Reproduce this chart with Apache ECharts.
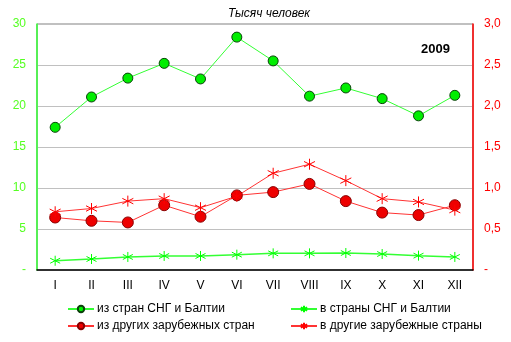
<!DOCTYPE html>
<html><head><meta charset="utf-8">
<script src="https://cdn.jsdelivr.net/npm/echarts@6/dist/echarts.min.js"></script>
<style>html,body{margin:0;padding:0;background:#fff}#c{width:511px;height:342px}</style>
</head><body><div id="c"></div>
<script>
const months = ['I','II','III','IV','V','VI','VII','VIII','IX','X','XI','XII'];
const fromCIS = [17.4,21.1,23.4,25.2,23.3,28.4,25.5,21.2,22.2,20.9,18.8,21.3];
const toCIS = [1.13,1.34,1.59,1.71,1.71,1.87,2.03,2.03,2.07,1.95,1.75,1.59];
const fromOther = [0.64,0.60,0.58,0.79,0.65,0.91,0.95,1.05,0.84,0.70,0.67,0.79];
const toOther = [0.71,0.75,0.84,0.87,0.76,0.90,1.18,1.29,1.09,0.87,0.83,0.73];
const names = ['из стран СНГ и Балтии','в страны СНГ и Балтии','из других зарубежных стран','в другие зарубежные страны'];
const FONT = 'Liberation Sans, Arial, sans-serif';
const star = 'path://M5,0 L5,10 M0.7,2.5 L9.3,7.5 M9.3,2.5 L0.7,7.5';
const chart = echarts.init(document.getElementById('c'));
const legendPos = [[62,298],[285,298],[62,315],[285,315]];
chart.setOption({
  animation:false,
  textStyle:{fontFamily:FONT},
  title:[
    {text:'Тысяч человек',left:228,top:8,padding:0,textStyle:{fontSize:12,fontStyle:'italic',fontWeight:'normal',color:'#000',fontFamily:FONT}},
    {text:'2009',left:421,top:43,padding:0,textStyle:{fontSize:13,fontWeight:'bold',color:'#000',fontFamily:FONT}}
  ],
  legend: names.map((n,i)=>({data:[n],left:legendPos[i][0],top:legendPos[i][1],itemWidth:26,itemHeight:8,itemGap:4,
    textStyle:{fontSize:12,color:'#000',fontFamily:FONT,padding:[0,0,0,-2]}})),
  grid:{left:37,right:38,top:24,bottom:72,show:true,borderColor:'#808080',borderWidth:1},
  xAxis:{type:'category',data:months,boundaryGap:true,
    axisLine:{lineStyle:{color:'#000',width:1.5}},axisTick:{show:false},
    axisLabel:{color:'#000',fontSize:12,margin:10,fontFamily:FONT}},
  yAxis:[
    {type:'value',min:0,max:30,interval:5,position:'left',
      axisLine:{show:true,lineStyle:{color:'#33ff33',width:1.5}},axisTick:{show:false},
      splitLine:{lineStyle:{color:'#c0c0c0'}},
      axisLabel:{color:'#55ff22',fontSize:12,margin:11,fontFamily:FONT,formatter:v=>v===0?'-':String(v)}},
    {type:'value',min:0,max:3,interval:0.5,position:'right',
      axisLine:{show:true,lineStyle:{color:'#ff0000',width:1.5}},axisTick:{show:false},
      splitLine:{show:false},
      axisLabel:{color:'#ff0000',fontSize:12,margin:11,fontFamily:FONT,formatter:v=>v===0?'-':v.toFixed(1).replace('.',',')}}
  ],
  series:[
    {name:names[0],type:'line',yAxisIndex:0,data:fromCIS,symbol:'circle',symbolSize:10,
      lineStyle:{color:'#33ff33',width:1},itemStyle:{color:'#00ee00',borderColor:'#0a400a',borderWidth:1}},
    {name:names[1],type:'line',yAxisIndex:0,data:toCIS,symbol:star,symbolSize:10,
      lineStyle:{color:'#33ff33',width:1.5},itemStyle:{color:'none',borderColor:'#00ff00',borderWidth:1}},
    {name:names[2],type:'line',yAxisIndex:1,data:fromOther,symbol:'circle',symbolSize:11,
      lineStyle:{color:'#ff3333',width:1},itemStyle:{color:'#ee0000',borderColor:'#880000',borderWidth:1}},
    {name:names[3],type:'line',yAxisIndex:1,data:toOther,symbol:star,symbolSize:11,
      lineStyle:{color:'#ff3333',width:1},itemStyle:{color:'none',borderColor:'#ff0000',borderWidth:1}}
  ]
});
</script></body></html>
